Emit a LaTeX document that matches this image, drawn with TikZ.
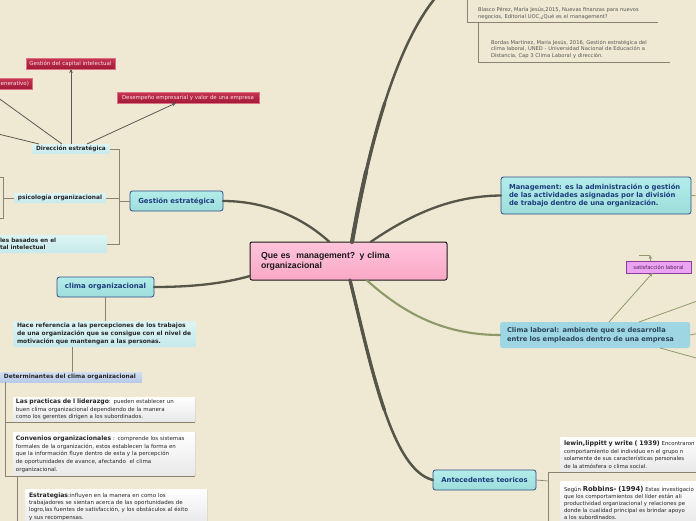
\documentclass[tikz,border=0pt]{standalone}
\usepackage{fontspec}
\setmainfont{DejaVu Sans}
\newfontfamily\arialf{Liberation Sans}
\usetikzlibrary{arrows.meta,shadows}
\definecolor{bgc}{HTML}{EFE9D3}
\definecolor{tealA}{HTML}{B3EDEA}
\definecolor{tealB}{HTML}{9EDDDB}
\definecolor{tbord}{HTML}{2E4C86}
\definecolor{tnavy}{HTML}{1C3C7C}
\definecolor{clabc}{HTML}{9FD6E3}
\definecolor{clabt}{HTML}{2B4658}
\definecolor{lightA}{HTML}{DDF4F4}
\definecolor{lightB}{HTML}{C6E9EB}
\definecolor{detA}{HTML}{D2DFF2}
\definecolor{detB}{HTML}{B7CAE7}
\definecolor{redA}{HTML}{C83553}
\definecolor{redB}{HTML}{A01A36}
\definecolor{redbord}{HTML}{DD7085}
\definecolor{redt}{HTML}{F7E2E6}
\definecolor{satf}{HTML}{EDA3F3}
\definecolor{satb}{HTML}{8C3D9C}
\definecolor{satt}{HTML}{4A2050}
\definecolor{pinkA}{HTML}{FFC4DB}
\definecolor{pinkB}{HTML}{FAA8C6}
\definecolor{reft}{HTML}{555555}
\definecolor{thickc}{HTML}{56554A}
\definecolor{greenc}{HTML}{8B9A66}
\definecolor{olivel}{HTML}{8E9A6C}
\definecolor{brk}{HTML}{8A8372}
\definecolor{thinc}{HTML}{5A5A55}
\newcommand\fz[2]{\fontsize{#1pt}{#2pt}\selectfont}
\newcommand\oneline[1]{\mbox{#1}}
\begin{document}
\begin{tikzpicture}[x=1pt,y=-1pt,
 every node/.style={inner sep=0pt, outer sep=0pt, anchor=north west},
 tealbox/.style={draw=tbord, line width=0.8pt, top color=tealA, bottom color=tealB, rounded corners=2.5pt, text=tnavy, font=\bfseries},
 clabbox/.style={fill=clabc, rounded corners=2.5pt, text=clabt, font=\bfseries},
 lightbox/.style={top color=lightA, bottom color=lightB, rounded corners=1pt, text=black!85, font=\bfseries},
 detbox/.style={top color=detA, bottom color=detB, text=black!85, font=\bfseries},
 redbox/.style={draw=redbord, line width=0.6pt, top color=redA, bottom color=redB, text=redt},
 satbox/.style={draw=satb, line width=0.7pt, fill=satf, text=satt},
 centerbox/.style={draw=black!90, line width=1pt, top color=pinkA, bottom color=pinkB, rounded corners=2pt, text=black!90},
 whitebox/.style={top color=white, bottom color=black!9, rounded corners=1pt, text=black!85, drop shadow={opacity=0.25, shadow xshift=0.7pt, shadow yshift=-0.7pt}},
 reftext/.style={text=reft},
 thickA/.style={draw=thickc, line width=2.5pt, line cap=round},
 thickB/.style={draw=thickc, line width=3.3pt, line cap=round},
 thickC/.style={draw=thickc, line width=4.1pt, line cap=round},
 thick2/.style={draw=thickc, line width=2.3pt, line cap=round},
 greenl/.style={draw=greenc, line width=2.1pt, line cap=round},
 olive/.style={draw=olivel, line width=0.8pt},
 brkl/.style={draw=brk, line width=0.7pt},
 thinl/.style={draw=thinc, line width=0.8pt},
 arr/.style={-{Stealth[length=4pt,width=3.6pt]}}
]
\useasboundingbox (0,0) rectangle (696,520);
\clip (0,0) rectangle (696,520);
\fill[bgc] (-5,-5) rectangle (701,525);

% ---------- nodes ----------
\node[centerbox, minimum width=197pt, minimum height=38pt, inner xsep=11pt, text width=175pt, align=left, font=\arialf\bfseries\fz{8.7}{10}] (c) at (250,242) {Que es~ management? y clima\\organizacional};

\node[tealbox, minimum height=37pt, inner xsep=8pt, text width=174pt, align=left, font=\bfseries\fz{6.8}{8.4}] (mgmt) at (501,177) {\oneline{Management: es la administración o gestión}\\\oneline{de las actividades asignadas por la división}\\\oneline{de trabajo dentro de una organización.}};

\node[clabbox, minimum height=26pt, inner xsep=7pt, text width=176pt, align=left, font=\bfseries\fz{6.7}{9.2}] (clab) at (500,322) {\oneline{Clima laboral: ambiente que se desarrolla}\\\oneline{entre los empleados dentro de una empresa}};

\node[satbox, minimum width=65pt, minimum height=12pt, font=\fz{5.2}{6}] (sat) at (626,261) {satisfacción laboral};

\node[tealbox, minimum width=103pt, minimum height=20pt, font=\bfseries\fz{6.8}{8}] (ante) at (433,470) {Antecedentes teoricos};

\node[whitebox, minimum height=35pt, inner xsep=4pt, text width=142pt, align=left, font=\fz{5.4}{7.6}] (lewin) at (560,437) {\oneline{{\bfseries\fz{6.3}{7.6}lewin,lippitt y write ( 1939)} Encontraron}\\\oneline{comportamiento del individuo en el grupo n}\\\oneline{solamente de sus características personales}\\\oneline{de la atmósfera o clima social.}};

\node[whitebox, minimum height=44pt, inner xsep=4pt, text width=142pt, align=left, font=\fz{5.4}{7.2}] (robbins) at (560,481) {\oneline{Según {\bfseries\fz{6.8}{7.2}Robbins- (1994)} Estas investigacio}\\\oneline{que los comportamientos del líder están ali}\\\oneline{productividad organizacional y relaciones pe}\\\oneline{donde la cualidad principal es brindar apoyo}\\\oneline{a los subordinados.}};

\node[reftext, inner xsep=11pt, inner ysep=3.5pt, text width=169pt, align=left, font=\fz{5.2}{6.5}] (blasco) at (467,4) {\oneline{Blasco Pérez, María Jesús,2015, Nuevas finanzas para nuevos}\\\oneline{negocios, Editorial UOC,¿Qué es el management?}};

\node[reftext, inner xsep=13pt, inner ysep=4pt, text width=166pt, align=left, font=\fz{5.2}{6.5}] (bordas) at (478,36) {\oneline{Bordas Martínez, María Jesús, 2016, Gestión estratégica del}\\\oneline{clima laboral, UNED - Universidad Nacional de Educación a}\\\oneline{Distancia, Cap 3 Clima Laboral y dirección.}};

\node[tealbox, minimum width=93pt, minimum height=20pt, font=\bfseries\fz{6.9}{8}] (gest) at (130,191) {Gestión estratégica};

\node[tealbox, minimum width=97pt, minimum height=20pt, font=\bfseries\fz{7}{8}] (clorg) at (57,277) {clima organizacional};

\node[lightbox, minimum width=78pt, minimum height=10pt, font=\bfseries\fz{5.8}{6.5}] (dir) at (32,144) {Dirección estratégica};

\node[lightbox, minimum width=92pt, minimum height=10pt, font=\bfseries\fz{5.9}{6.5}] (psic) at (14,193) {psicología organizacional};

\node[lightbox, minimum height=18pt, inner xsep=5pt, text width=102pt, align=left, font=\bfseries\fz{5.8}{7.6}] (modelos) at (-5,235) {\oneline{les basados en el}\\\oneline{tal intelectual}};

\node[redbox, minimum width=89pt, minimum height=11pt, font=\fz{5.5}{6}] (gci) at (26,58) {Gestión del capital intelectual};

\node[redbox, minimum width=142pt, minimum height=11pt, font=\fz{5.4}{6}] (dee) at (117,92) {Desempeño empresarial y valor de una empresa};

\node[redbox, anchor=north east, minimum height=11pt, inner xsep=3pt, text width=34pt, align=right, font=\fz{5.5}{6}] (gen) at (32,78) {enerativo)};

\node[lightbox, minimum height=26pt, inner xsep=4pt, text width=175pt, align=left, font=\bfseries\fz{5.95}{7.7}] (hace) at (13,321) {\oneline{Hace referencia a las percepciones de los trabajos}\\\oneline{de una organización que se consigue con el nivel de}\\\oneline{motivación que mantengan a las personas.}};

\node[detbox, minimum height=10pt, inner xsep=6pt, text width=132pt, align=left, font=\bfseries\fz{5.9}{7}] (det) at (-2,372) {\oneline{Determinantes del clima organizacional}};

\node[whitebox, minimum height=25pt, inner xsep=3pt, text width=176pt, align=left, font=\fz{5.5}{7.7}] (prac) at (13,397) {\oneline{{\bfseries\fz{6.1}{7.7}Las practicas de l liderazgo}: pueden establecer un}\\\oneline{buen clima organizacional dependiendo de la manera}\\\oneline{como los gerentes dirigen a los subordinados.}};

\node[whitebox, minimum height=44pt, inner xsep=3pt, text width=176pt, align=left, font=\fz{5.5}{7.7}] (conv) at (13,432) {\oneline{{\bfseries\fz{6.1}{7.7}Convenios organizacionales} : comprende los sistemas}\\\oneline{formales de la organización, estos establecen la forma en}\\\oneline{que la información fluye dentro de esta y la percepción}\\\oneline{de oportunidades de avance, afectando~ el clima}\\\oneline{organizacional.}};

\node[whitebox, minimum height=35pt, inner xsep=4pt, text width=174pt, align=left, font=\fz{5.5}{7.3}] (estr) at (25,489) {\oneline{{\bfseries\fz{6.1}{7.3}Estrategias}:influyen en la manera en como los}\\\oneline{trabajadores se sientan acerca de las oportunidades de}\\\oneline{logro,las fuentes de satisfacción, y los obstáculos al éxito}\\\oneline{y sus recompensas.}};

% ---------- free ends ----------
\coordinate (topend) at (437,-4);
\coordinate (topmid) at (384.75,102.9);
\coordinate (topq) at (366.1,171.6);
\coordinate (botmid) at (384.4,410);
\coordinate (mgmtend) at (700,196);
\coordinate (clabR1) at (700,300);
\coordinate (clabR2) at (700,333);
\coordinate (clabR3) at (700,359);
\coordinate (satup) at (650,255);
\coordinate (satl) at (639,255);
\coordinate (dirL1) at (-10,132);
\coordinate (dirL2) at (-10,92);
\coordinate (gb) at (119,201);
\coordinate (pb) at (3,198);
\coordinate (lb1) at (-3,177);
\coordinate (lb2) at (-3,218);
\coordinate (d0) at (5,382);
\coordinate (ab) at (548,481);
\coordinate (r0) at (467,-5);

% ---------- main branches ----------
\draw[thick2] ([xshift=-19pt]c.north) .. controls (300,215) and (262,201) .. (gest.east);
\draw[thick2] ([yshift=-15pt]c.west) .. controls (225,283) and (195,287) .. (clorg.east);
\draw[thick2] ([xshift=22pt]c.north) .. controls (410,215) and (450,196) .. (mgmt.west);
\draw[greenl] ([xshift=18pt]c.south) .. controls (400,310) and (440,335) .. (clab.west);
% top branch, tapering
\draw[thickA] ([xshift=3.5pt]c.north) .. controls (368,150) and (395,45) .. (topend);
\draw[thickB] ([xshift=3.5pt]c.north) .. controls (360,196) and (370.75,146.75) .. (topmid);
\draw[thickC] ([xshift=3.5pt]c.north) .. controls (356,219) and (360.7,195.2) .. (topq);
% bottom branch, tapering
\draw[thickA] ([xshift=1.5pt]c.south) .. controls (372,370) and (392,470) .. (ante.west);
\draw[thickB] ([xshift=1.5pt]c.south) .. controls (361,325) and (371.5,372.5) .. (botmid);

% ---------- references ----------
\draw[brkl] (r0) |- (blasco.south east);
\draw[brkl] ([xshift=11pt]blasco.south west) |- (bordas.south east);

% ---------- management / clima laboral ----------
\draw[olive] (mgmt.east) -- (mgmtend);
\draw[olive, arr] ([xshift=14pt]clab.north) -- ([xshift=-6pt]sat.south);
\draw[olive] ([xshift=44pt]clab.north) -- (clabR1);
\draw[olive] (clab.east) -- (clabR2);
\draw[olive] ([xshift=65pt]clab.south) -- (clabR3);
\draw[olive] (satl) -- (satup);
\draw[olive, arr] ([xshift=-8pt]sat.north) -- (satup);

% ---------- antecedentes ----------
\draw[brkl] (ante.east) -- (ab);
\draw[brkl] (ab) |- (lewin.south east);
\draw[brkl] (ab) |- (robbins.south east);

% ---------- gestion estrategica ----------
\draw[brkl] (gest.west) -- (gb);
\draw[brkl] (dir.east) -| (gb);
\draw[brkl] (modelos.east) -| (gb);
\draw[brkl] (psic.east) -- (psic.east -| gb);
\draw[brkl] (psic.west) -- (pb);
\draw[brkl] (lb1) -| (pb);
\draw[brkl] (lb2) -| (pb);

\draw[thinl] ([xshift=-32pt]dir.north) -- (dirL1);
\draw[thinl] ([xshift=-9pt]dir.north) -- (dirL2);
\draw[thinl, arr] (dir.north) -- (dir.north |- gci.south);
\draw[thinl, arr] ([xshift=16pt]dir.north) -- ([xshift=-12pt]dee.south);

% ---------- clima organizacional ----------
\draw[brkl] (clorg.south) -- (clorg.south |- hace.north);
\draw[brkl] ([xshift=-32.5pt]hace.south) -- ([xshift=-32.5pt]hace.south |- det.north);
\draw[brkl] (d0) |- (prac.south east);
\draw[brkl] (d0) |- (conv.south east);
\draw[brkl] ([xshift=4pt]conv.south west) |- (estr.south east);
\end{tikzpicture}
\end{document}
